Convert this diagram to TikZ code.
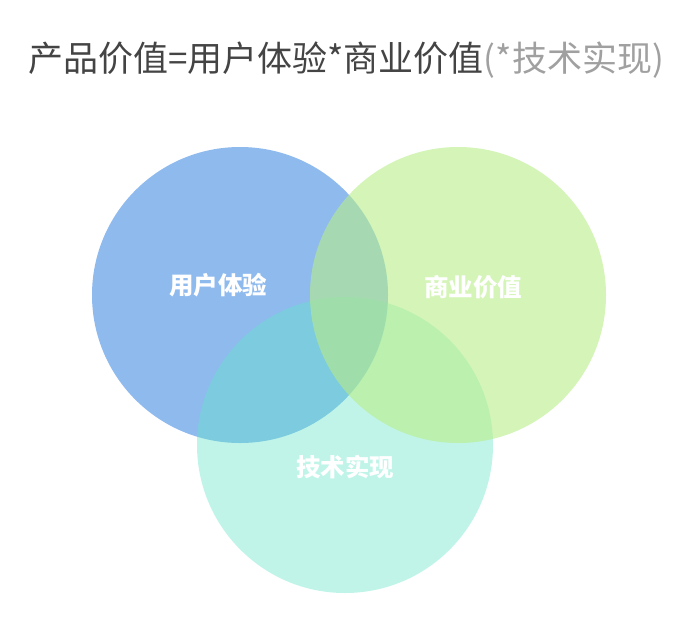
\documentclass[tikz,border=0pt]{standalone}
\usepackage{fontspec}
\usepackage{xcolor}
\usetikzlibrary{positioning}
\newfontfamily\cjk{Noto Sans CJK SC}
\definecolor{uxblue}{RGB}{67,140,227}
\definecolor{bizgreen}{RGB}{183,237,137}
\definecolor{techteal}{RGB}{98,228,198}
\definecolor{titlegray}{RGB}{68,68,68}
\definecolor{notegray}{RGB}{160,160,160}
\tikzset{
  venn/.style={circle,minimum size=296pt,inner sep=0pt,fill opacity=0.6},
  vennlabel/.style={font=\cjk\bfseries\fontsize{24.5}{24.5}\selectfont,text=white},
  headline/.style={font=\cjk\fontsize{35}{35}\selectfont,inner sep=0pt}
}
\begin{document}
\begin{tikzpicture}[x=1pt,y=-1pt]
  \useasboundingbox (0,0) rectangle (687,625);
  \node[venn,fill=uxblue] (ux) at (240,295) {};
  \node[venn,fill=techteal,fill opacity=0.4] (tech) at (345,445) {};
  \node[venn,fill=bizgreen] (biz) at (458,295) {};
  \node[vennlabel] (uxlabel) at (218,285) {用户体验};
  \node[vennlabel] (bizlabel) at (473,287) {商业价值};
  \node[vennlabel] (techlabel) at (345,467) {技术实现};
  \node[headline] (title) at (346,60)
    {\textcolor{titlegray}{产品价值=用户体验*商业价值}\textcolor{notegray}{(*技术实现)}};
\end{tikzpicture}
\end{document}
